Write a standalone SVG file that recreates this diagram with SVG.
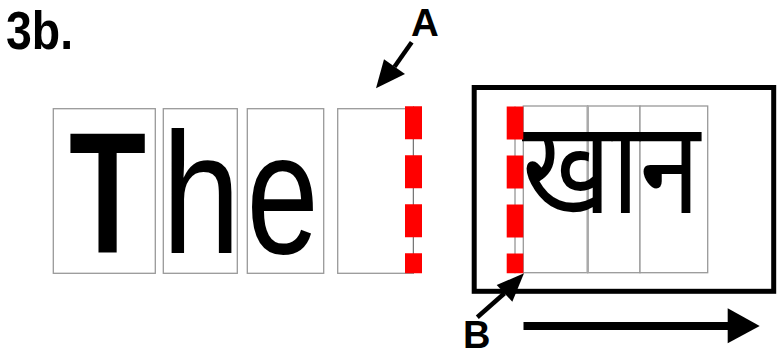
<svg xmlns="http://www.w3.org/2000/svg" width="777" height="356" viewBox="0 0 777 356">
<style>
.box{fill:#fff;stroke:#999;stroke-width:1.3}
.thin{stroke:#777;stroke-width:1}
.dash{stroke:#f00;stroke-width:17;stroke-dasharray:33 16}
.lbl{font-family:"Liberation Sans",Arial,sans-serif;font-weight:bold;fill:#000}
.let{font-family:"Liberation Sans",Arial,sans-serif;fill:#000;font-size:173px;text-anchor:middle}
.arr{stroke:#000;stroke-width:4.5;fill:none}
.dev{font-family:"Noto Sans Devanagari","Lohit Devanagari","Mangal","Noto Sans",sans-serif;font-size:130px;fill:#000}
</style>
<rect width="777" height="356" fill="#fff"/>
<text class="lbl" font-size="54" transform="translate(6,49.2) scale(0.86,1)">3b.</text>
<g id="box-T">
<rect class="box" x="53.3" y="108.7" width="102" height="164.6"/>
<text class="let" font-weight="bold" transform="translate(107.5,253.3) scale(0.73,1)">T</text>
</g>
<g id="box-h">
<rect class="box" x="163.3" y="108.7" width="74" height="164.6"/>
<text class="let" transform="translate(201.2,253.3) scale(0.82,1)">h</text>
</g>
<g id="box-e">
<rect class="box" x="247.3" y="108.7" width="76.4" height="164.6"/>
<text class="let" transform="translate(282.5,253.3) scale(0.75,1)">e</text>
</g>
<g id="box-space">
<rect class="box" x="337.7" y="108.7" width="75.6" height="164.6"/>
<line class="thin" x1="413.5" y1="106.3" x2="413.5" y2="273.3"/>
<line class="dash" x1="413.5" y1="106.3" x2="413.5" y2="273.3"/>
</g>
<g id="frame">
<rect x="474.2" y="87.5" width="299.5" height="203.8" fill="none" stroke="#000" stroke-width="5"/>
</g>
<g id="devanagari">
<rect class="box" x="523.3" y="106" width="64.4" height="166.7"/>
<rect class="box" x="587.7" y="106" width="52.3" height="166.7"/>
<rect class="box" x="640" y="106" width="67.7" height="166.7"/>
<line x1="587.7" y1="106" x2="587.7" y2="272.7" stroke="#aaa" stroke-width="2.5"/>
<text class="dev" transform="translate(522,213) scale(0.84,1)">खान</text>
<line class="thin" x1="515" y1="106.5" x2="515" y2="273.3"/>
<line class="dash" x1="515" y1="106.5" x2="515" y2="273.3" style="stroke-width:16.6"/>
</g>
<g id="connectors">
<line class="arr" x1="411.7" y1="42.3" x2="394.5" y2="66.7"/>
<polygon points="376,88.3 384,59.3 405,74" fill="#000"/>
<line class="arr" x1="477.3" y1="317.3" x2="504.5" y2="293.3"/>
<polygon points="524,273.3 496.7,285 512.3,301.7" fill="#000"/>
<line x1="523.5" y1="326" x2="729" y2="326" stroke="#000" stroke-width="8"/>
<polygon points="727.7,308.3 759.7,326 727.7,343.3" fill="#000"/>
</g>
<text class="lbl" font-size="38.5" x="425" y="36" text-anchor="middle">A</text>
<text class="lbl" font-size="38" x="476.7" y="347.8" text-anchor="middle">B</text>
</svg>
